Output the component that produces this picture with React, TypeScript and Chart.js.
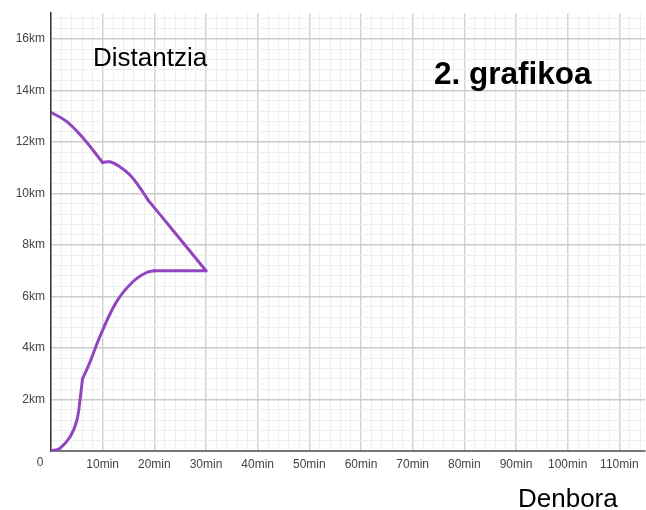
import { useEffect, useRef } from 'react';
import { Chart, registerables } from 'chart.js';

Chart.register(...registerables);

// Axis ranges and ticks
const xMax = 115;
const yMax = 17;
const xMinorStep = 2;
const xMajorStep = 10;
const yMinorStep = 0.4;
const yMajorStep = 2;
const xUnit = 'min';
const yUnit = 'km';
const originLabel = '0';

// Labels
const yTitle = 'Distantzia';
const xTitle = 'Denbora';
const chartTitle = '2. grafikoa';

// Curve 1 (upper, decreasing) pieces: time (min), distance (km)
const upperT1 = [0, 3, 6, 10];
const upperD1 = [13.15, 12.8, 12.2, 11.2];
const upperT2 = [10, 11.4, 13.3, 15.3, 17.2, 18.8];
const upperD2 = [11.2, 11.23, 11.04, 10.72, 10.23, 9.74];
const upperT3 = [18.8, 24.3, 30];
const upperD3 = [9.74, 8.4, 7.0];

// Curve 2 (lower, increasing) pieces
const lowerT1 = [0, 1.7, 3.7, 5.0, 5.6, 6.1];
const lowerD1 = [0, 0.1, 0.55, 1.19, 1.96, 2.8];
const lowerT2 = [6.1, 7.5, 9.5, 12.7, 15.9, 18.5, 20];
const lowerD2 = [2.8, 3.43, 4.46, 5.8, 6.58, 6.93, 7.0];
const lowerT3 = [20, 30];
const lowerD3 = [7.0, 7.0];

const lineColor = '#9146c0';

const toPoints = (t: number[], d: number[]) => t.map((x, i) => ({ x, y: d[i] }));

const isMultiple = (v: number, step: number) => Math.abs(v / step - Math.round(v / step)) < 1e-6;

const makeTicks = (max: number, step: number) => {
  const out: { value: number }[] = [];
  const n = Math.floor(max / step + 1e-9);
  for (let i = 0; i <= n; i++) out.push({ value: Math.round(i * step * 1e6) / 1e6 });
  return out;
};

const textPlugin = {
  id: 'overlayTexts',
  afterDraw(chart: any) {
    const ctx = chart.ctx;
    ctx.save();
    ctx.fillStyle = '#000';
    ctx.textBaseline = 'alphabetic';
    ctx.textAlign = 'left';
    ctx.font = '26px "Liberation Sans", Arial, sans-serif';
    ctx.fillText(yTitle, 93, 66);
    ctx.fillText(xTitle, 518, 507);
    ctx.font = 'bold 31.5px "Liberation Sans", Arial, sans-serif';
    ctx.fillText(chartTitle, 434, 84);
    ctx.fillStyle = '#444';
    ctx.font = '12px "Liberation Sans", Arial, sans-serif';
    ctx.textAlign = 'center';
    ctx.textBaseline = 'middle';
    ctx.fillText(originLabel, 40, 463);
    ctx.restore();
  },
};

export default function App() {
  const ref = useRef<HTMLCanvasElement>(null);

  useEffect(() => {
    if (!ref.current) return;
    const ds = (t: number[], d: number[]) => ({
      data: toPoints(t, d),
      borderColor: lineColor,
      backgroundColor: lineColor,
      borderWidth: 3,
      pointRadius: 0,
      fill: false,
      tension: 0.4,
      borderCapStyle: 'round' as const,
      borderJoinStyle: 'round' as const,
    });
    const chart = new Chart(ref.current, {
      type: 'line',
      data: {
        datasets: [
          ds(upperT1, upperD1),
          ds(upperT2, upperD2),
          ds(upperT3, upperD3),
          ds(lowerT1, lowerD1),
          ds(lowerT2, lowerD2),
          ds(lowerT3, lowerD3),
        ],
      },
      options: {
        animation: false,
        responsive: false,
        devicePixelRatio: 1,
        layout: { padding: { top: 10, right: 0, left: 0, bottom: 0 } },
        plugins: { legend: { display: false }, tooltip: { enabled: false } },
        scales: {
          x: {
            type: 'linear',
            min: 0,
            max: xMax,
            afterBuildTicks: (scale: any) => {
              scale.ticks = makeTicks(xMax, xMinorStep);
            },
            afterFit: (scale: any) => {
              scale.height = 59;
            },
            grid: {
              drawTicks: false,
              color: (c: any) => (isMultiple(c.tick.value, xMajorStep) ? '#d4d4d4' : '#eeeeee'),
              lineWidth: (c: any) => (isMultiple(c.tick.value, xMajorStep) ? 1.5 : 1),
            },
            border: { color: '#777', width: 2 },
            ticks: {
              autoSkip: false,
              maxRotation: 0,
              padding: 6,
              color: '#444',
              font: { family: '"Liberation Sans", Arial, sans-serif', size: 12 },
              callback: (v: any) => {
                const n = Number(v);
                return n > 0 && isMultiple(n, xMajorStep) ? `${Math.round(n)}${xUnit}` : '';
              },
            },
          },
          y: {
            type: 'linear',
            min: 0,
            max: yMax,
            afterBuildTicks: (scale: any) => {
              scale.ticks = makeTicks(yMax, yMinorStep);
            },
            afterFit: (scale: any) => {
              scale.width = 51;
            },
            grid: {
              drawTicks: false,
              color: (c: any) => (isMultiple(c.tick.value, yMajorStep) ? '#cccccc' : '#eeeeee'),
              lineWidth: (c: any) => (isMultiple(c.tick.value, yMajorStep) ? 1.5 : 1),
            },
            border: { color: '#333', width: 1.5 },
            ticks: {
              autoSkip: false,
              padding: 6,
              color: '#444',
              font: { family: '"Liberation Sans", Arial, sans-serif', size: 12 },
              callback: (v: any) => {
                const n = Number(v);
                return n > 0 && isMultiple(n, yMajorStep) ? `${Math.round(n)}${yUnit}` : '';
              },
            },
          },
        },
      },
      plugins: [textPlugin],
    });
    return () => chart.destroy();
  }, []);

  return (
    <div style={{ position: 'absolute', left: 0, top: 0, width: 646, height: 510, background: '#fff' }}>
      <canvas ref={ref} width={646} height={510} style={{ display: 'block', width: 646, height: 510 }} />
    </div>
  );
}
